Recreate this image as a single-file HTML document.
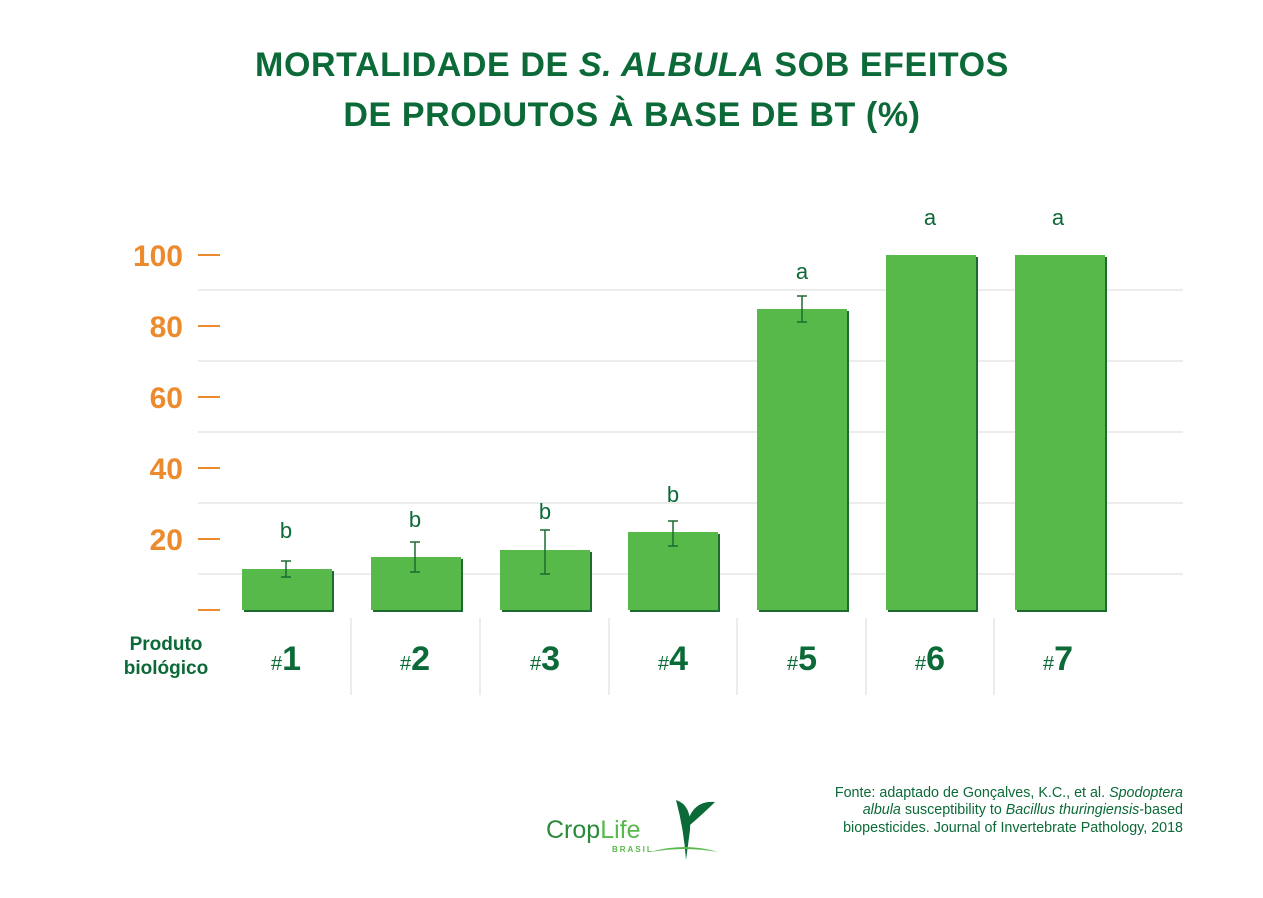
<!DOCTYPE html>
<html><head><style>
body{margin:0;background:#fff;width:1263px;height:893px;overflow:hidden;font-family:"Liberation Sans",sans-serif;}
</style></head><body>
<svg width="1263" height="893" xmlns="http://www.w3.org/2000/svg" font-family="Liberation Sans, sans-serif">
<g fill="#0b6a37" font-weight="bold" font-size="34" text-anchor="middle" letter-spacing="0.6">
<text x="632" y="76">MORTALIDADE DE <tspan font-style="italic">S. ALBULA</tspan> SOB EFEITOS</text>
<text x="632" y="126">DE PRODUTOS À BASE DE BT (%)</text>
</g>
<g stroke="#e6e6e6" stroke-width="1.5">
<line x1="198" x2="1183" y1="290" y2="290"/><line x1="198" x2="1183" y1="361" y2="361"/>
<line x1="198" x2="1183" y1="432" y2="432"/><line x1="198" x2="1183" y1="503" y2="503"/>
<line x1="198" x2="1183" y1="574" y2="574"/>
<line x1="351" x2="351" y1="618" y2="695"/><line x1="480" x2="480" y1="618" y2="695"/>
<line x1="609" x2="609" y1="618" y2="695"/><line x1="737" x2="737" y1="618" y2="695"/>
<line x1="866" x2="866" y1="618" y2="695"/><line x1="994" x2="994" y1="618" y2="695"/>
</g>
<g stroke="#ec8a2e" stroke-width="2">
<line x1="198" x2="220" y1="255" y2="255"/><line x1="198" x2="220" y1="326" y2="326"/>
<line x1="198" x2="220" y1="397" y2="397"/><line x1="198" x2="220" y1="468" y2="468"/>
<line x1="198" x2="220" y1="539" y2="539"/><line x1="198" x2="220" y1="610" y2="610"/>
</g>
<g fill="#ec8a2e" font-weight="bold" font-size="30" text-anchor="end">
<text x="183" y="266">100</text><text x="183" y="337">80</text><text x="183" y="408">60</text>
<text x="183" y="479">40</text><text x="183" y="550">20</text>
</g>
<g fill="#1d6b30">
<rect x="244" y="571" width="90" height="41"/><rect x="373" y="559" width="90" height="53"/>
<rect x="502" y="552" width="90" height="60"/><rect x="630" y="534" width="90" height="78"/>
<rect x="759" y="311" width="90" height="301"/><rect x="888" y="257" width="90" height="355"/>
<rect x="1017" y="257" width="90" height="355"/>
</g>
<g fill="#57b94a">
<rect x="242" y="569" width="90" height="41"/><rect x="371" y="557" width="90" height="53"/>
<rect x="500" y="550" width="90" height="60"/><rect x="628" y="532" width="90" height="78"/>
<rect x="757" y="309" width="90" height="301"/><rect x="886" y="255" width="90" height="355"/>
<rect x="1015" y="255" width="90" height="355"/>
</g>
<g stroke="#1d6b30" stroke-width="1.5" fill="none">
<path d="M286 561V577M281 561h10M281 577h10"/>
<path d="M415 542V572M410 542h10M410 572h10"/>
<path d="M545 530V574M540 530h10M540 574h10"/>
<path d="M673 521V546M668 521h10M668 546h10"/>
<path d="M802 296V322M797 296h10M797 322h10"/>
</g>
<g fill="#0b6a37" font-size="22" text-anchor="middle">
<text x="286" y="538">b</text><text x="415" y="527">b</text><text x="545" y="519">b</text>
<text x="673" y="502">b</text><text x="802" y="279">a</text><text x="930" y="225">a</text><text x="1058" y="225">a</text>
</g>
<g fill="#0b6a37" font-weight="bold" text-anchor="middle">
<text x="166" y="650" font-size="19">Produto</text>
<text x="166" y="674" font-size="19">biológico</text>
<g font-size="34">
<text x="286" y="670"><tspan font-size="20" font-weight="normal">#</tspan>1</text>
<text x="415" y="670"><tspan font-size="20" font-weight="normal">#</tspan>2</text>
<text x="545" y="670"><tspan font-size="20" font-weight="normal">#</tspan>3</text>
<text x="673" y="670"><tspan font-size="20" font-weight="normal">#</tspan>4</text>
<text x="802" y="670"><tspan font-size="20" font-weight="normal">#</tspan>5</text>
<text x="930" y="670"><tspan font-size="20" font-weight="normal">#</tspan>6</text>
<text x="1058" y="670"><tspan font-size="20" font-weight="normal">#</tspan>7</text>
</g>
</g>
<g fill="#0b6a37" font-size="14.3" text-anchor="end">
<text x="1183" y="797">Fonte: adaptado de Gonçalves, K.C., et al. <tspan font-style="italic">Spodoptera</tspan></text>
<text x="1183" y="814"><tspan font-style="italic">albula</tspan> susceptibility to <tspan font-style="italic">Bacillus thuringiensis</tspan>-based</text>
<text x="1183" y="832">biopesticides. Journal of Invertebrate Pathology, 2018</text>
</g>
<text x="546" y="838" font-size="25" fill="#2a8a3a">Crop<tspan fill="#57b94a">Life</tspan></text>
<text x="612" y="852" font-size="8" font-weight="bold" fill="#57b94a" letter-spacing="2">BRASIL</text>
<path d="M676 800 Q692 805 690 830 L686 860 Q684 830 676 800Z" fill="#0b6a37"/>
<path d="M688 820 Q695 800 715 802 Q705 812 690 825Z" fill="#0b6a37"/>
<path d="M650 852 Q685 842 718 852 Q685 846 650 852Z" fill="#57b94a"/>
</svg>
</body></html>
